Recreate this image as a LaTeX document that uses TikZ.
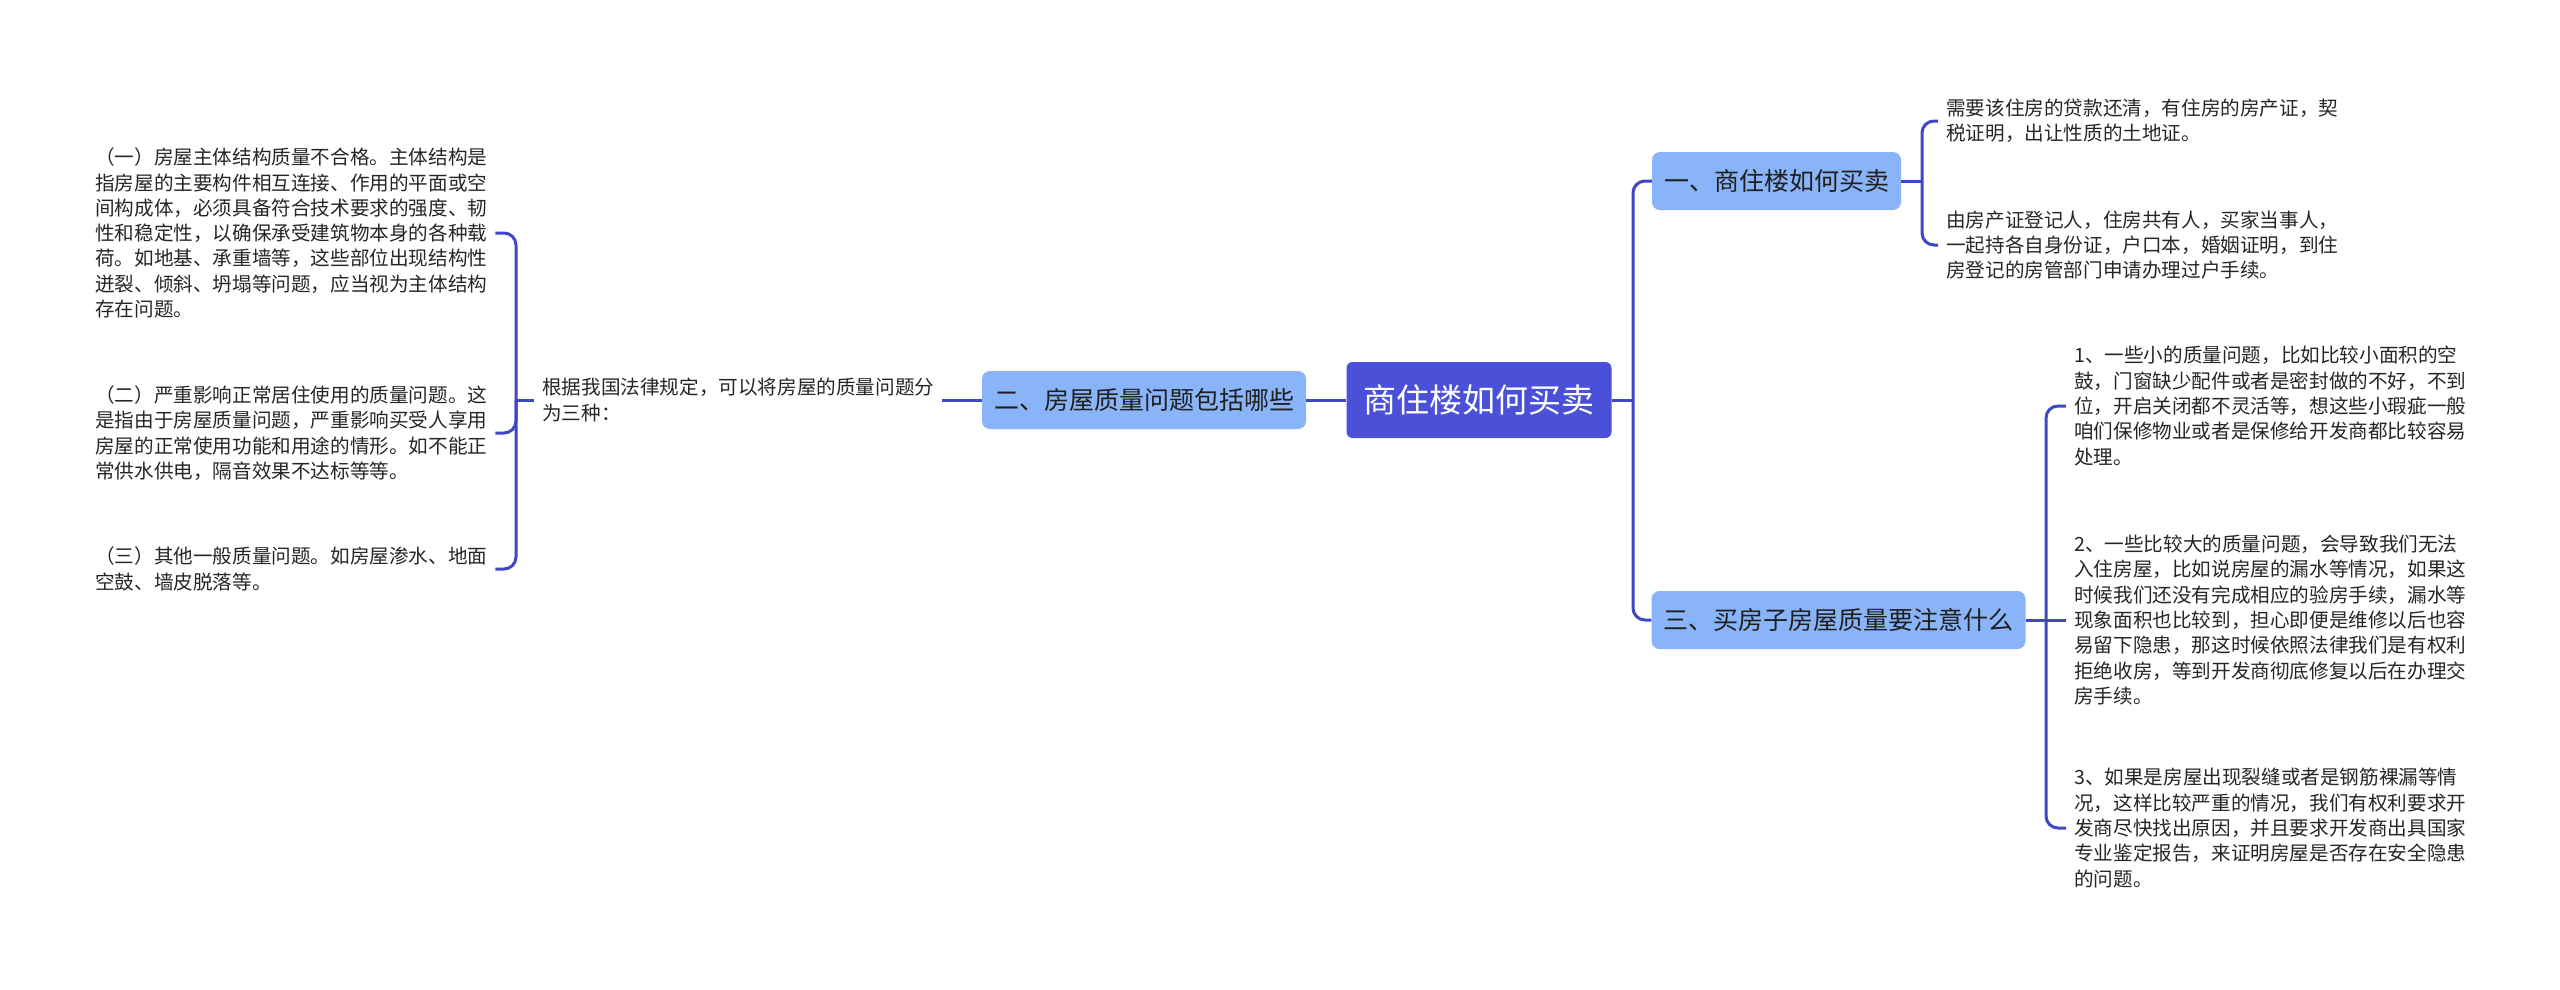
\documentclass[tikz,border=0pt]{standalone}
\usepackage{fontspec}
\setmainfont{Noto Sans CJK SC}
\definecolor{rootc}{HTML}{4A51D8}
\definecolor{branchc}{HTML}{8AB4F8}
\definecolor{linec}{HTML}{4047C4}
\definecolor{txtc}{HTML}{262626}
\tikzset{
  rootbox/.style={fill=rootc, rounded corners=6pt, text=white, font=\fontsize{33pt}{40pt}\selectfont, minimum height=76pt, inner xsep=17pt},
  branchbox/.style={fill=branchc, rounded corners=8pt, text=black!88, font=\fontsize{25pt}{30pt}\selectfont, minimum height=58pt, inner xsep=12pt},
  leaf/.style={align=left, text=txtc, font=\fontsize{19.6pt}{25.3pt}\selectfont, inner xsep=8pt, inner ysep=0pt, anchor=west},
  conn/.style={draw=linec, line width=3pt, rounded corners=12pt}
}
\begin{document}
\begin{tikzpicture}[x=1pt,y=-1pt]
\useasboundingbox[fill=white] (0,0) rectangle (2560,989);
% main nodes
\node[rootbox] (root) at (1479,400) {商住楼如何买卖};
\node[branchbox] (b2) at (1144,400) {二、房屋质量问题包括哪些};
\node[branchbox] (b1) at (1776.5,181) {一、商住楼如何买卖};
\node[branchbox] (b3) at (1838.5,620) {三、买房子房屋质量要注意什么};
% left texts
\node[leaf] (mid) at (534,400) {根据我国法律规定，可以将房屋的质量问题分\\为三种：};
\node[leaf] (l1) at (87,233) {（一）房屋主体结构质量不合格。主体结构是\\指房屋的主要构件相互连接、作用的平面或空\\间构成体，必须具备符合技术要求的强度、韧\\性和稳定性，以确保承受建筑物本身的各种载\\荷。如地基、承重墙等，这些部位出现结构性\\迸裂、倾斜、坍塌等问题，应当视为主体结构\\存在问题。};
\node[leaf] (l2) at (87,433) {（二）严重影响正常居住使用的质量问题。这\\是指由于房屋质量问题，严重影响买受人享用\\房屋的正常使用功能和用途的情形。如不能正\\常供水供电，隔音效果不达标等等。};
\node[leaf] (l3) at (87,569) {（三）其他一般质量问题。如房屋渗水、地面\\空鼓、墙皮脱落等。};
% right texts
\node[leaf] (ra) at (1938,121) {需要该住房的贷款还清，有住房的房产证，契\\税证明，出让性质的土地证。};
\node[leaf] (rb) at (1938,245) {由房产证登记人，住房共有人，买家当事人，\\一起持各自身份证，户口本，婚姻证明，到住\\房登记的房管部门申请办理过户手续。};
\node[leaf] (r1) at (2066,406) {1、一些小的质量问题，比如比较小面积的空\\鼓，门窗缺少配件或者是密封做的不好，不到\\位，开启关闭都不灵活等，想这些小瑕疵一般\\咱们保修物业或者是保修给开发商都比较容易\\处理。};
\node[leaf] (r2) at (2066,620) {2、一些比较大的质量问题，会导致我们无法\\入住房屋，比如说房屋的漏水等情况，如果这\\时候我们还没有完成相应的验房手续，漏水等\\现象面积也比较到，担心即便是维修以后也容\\易留下隐患，那这时候依照法律我们是有权利\\拒绝收房，等到开发商彻底修复以后在办理交\\房手续。};
\node[leaf] (r3) at (2066,828) {3、如果是房屋出现裂缝或者是钢筋裸漏等情\\况，这样比较严重的情况，我们有权利要求开\\发商尽快找出原因，并且要求开发商出具国家\\专业鉴定报告，来证明房屋是否存在安全隐患\\的问题。};
% junctions
\coordinate (rj) at (1633,400);
\coordinate (lj) at (516,400);
\coordinate (j1) at (1922,181);
\coordinate (j3) at (2046,620);
% connectors
\draw[conn] (b2.east) -- (root.west);
\draw[conn] (mid.east) -- (b2.west);
\draw[conn] (mid.west) -- (lj);
\draw[conn] (lj) |- (l1.east);
\draw[conn] (lj) |- (l2.east);
\draw[conn] (lj) |- (l3.east);
\draw[conn] (root.east) -- (rj);
\draw[conn] (rj) |- (b1.west);
\draw[conn] (rj) |- (b3.west);
\draw[conn] (b1.east) -- (j1);
\draw[conn] (j1) |- (ra.west);
\draw[conn] (j1) |- (rb.west);
\draw[conn] (b3.east) -- (j3) -- (r2.west);
\draw[conn] (j3) |- (r1.west);
\draw[conn] (j3) |- (r3.west);
\end{tikzpicture}
\end{document}
